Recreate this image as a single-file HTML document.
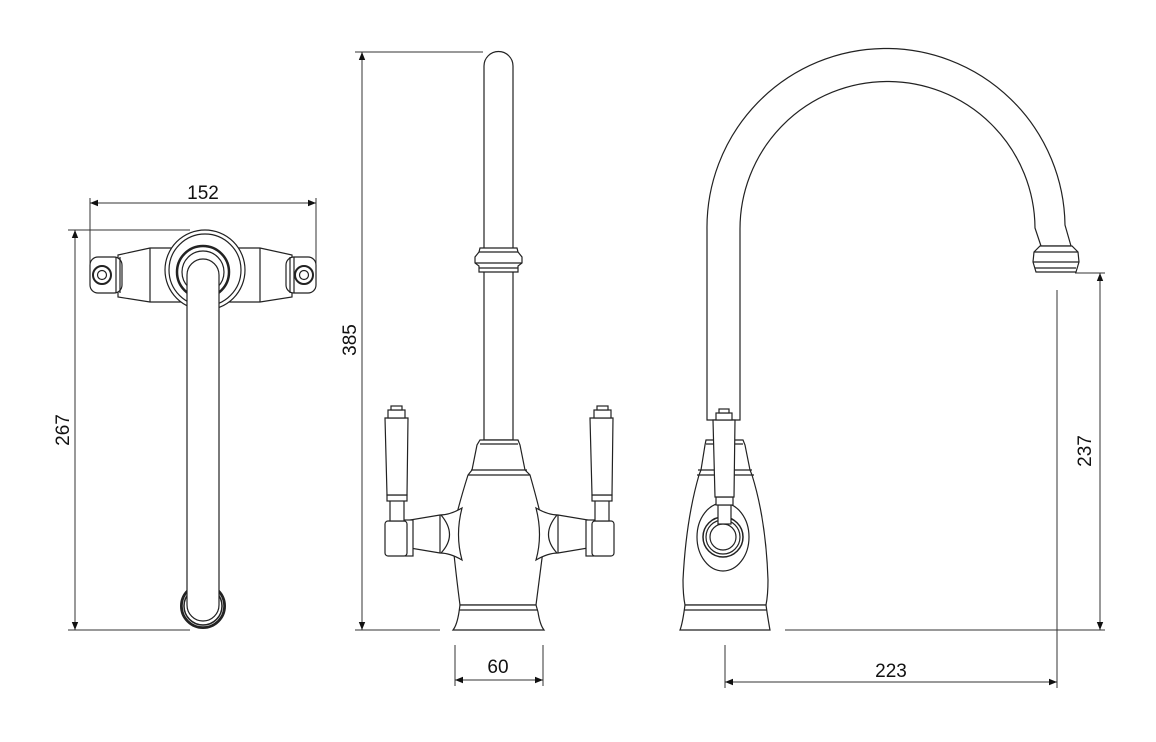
<!DOCTYPE html>
<html><head><meta charset="utf-8"><style>html,body{margin:0;padding:0;background:#fff}svg{display:block}text{font-family:"Liberation Sans",sans-serif;font-size:19px;fill:#111}</style></head>
<body>
<svg width="1156" height="742" viewBox="0 0 1156 742" xmlns="http://www.w3.org/2000/svg">
<defs>
<marker id="a" viewBox="0 0 10 10" refX="10" refY="5" markerWidth="12" markerHeight="8" markerUnits="userSpaceOnUse" orient="auto-start-reverse"><path d="M0,1 L10,5 L0,9 z" fill="#111"/></marker>
</defs>
<g stroke="#333" stroke-width="1" fill="none">
<line x1="90" y1="198" x2="90" y2="265"/><line x1="316" y1="198" x2="316" y2="265"/>
<line x1="90" y1="203" x2="316" y2="203" marker-start="url(#a)" marker-end="url(#a)"/>
<line x1="68" y1="230" x2="190" y2="230"/><line x1="68" y1="630" x2="190" y2="630"/>
<line x1="75" y1="230" x2="75" y2="630" marker-start="url(#a)" marker-end="url(#a)"/>
<line x1="355" y1="52" x2="483" y2="52"/><line x1="355" y1="630" x2="440" y2="630"/>
<line x1="362" y1="52" x2="362" y2="630" marker-start="url(#a)" marker-end="url(#a)"/>
<line x1="455" y1="645" x2="455" y2="686"/><line x1="543" y1="645" x2="543" y2="686"/>
<line x1="455" y1="680" x2="543" y2="680" marker-start="url(#a)" marker-end="url(#a)"/>
<line x1="725" y1="645" x2="725" y2="688"/><line x1="1057" y1="290" x2="1057" y2="688"/>
<line x1="725" y1="682" x2="1057" y2="682" marker-start="url(#a)" marker-end="url(#a)"/>
<line x1="1075" y1="273" x2="1105" y2="273"/><line x1="785" y1="630" x2="1105" y2="630"/>
<line x1="1100" y1="273" x2="1100" y2="630" marker-start="url(#a)" marker-end="url(#a)"/>
</g>
<text x="203" y="199" text-anchor="middle">152</text>
<text x="498" y="673" text-anchor="middle">60</text>
<text x="891" y="677" text-anchor="middle">223</text>
<text transform="translate(69,430) rotate(-90)" text-anchor="middle">267</text>
<text transform="translate(356,340) rotate(-90)" text-anchor="middle">385</text>
<text transform="translate(1091,451) rotate(-90)" text-anchor="middle">237</text>

<g stroke="#222" stroke-width="1.2" fill="#fff">
<path d="M118,255 L150,248 L260,248 L292,255 L292,297 L260,302 L150,302 L118,297 Z"/>
<line x1="150" y1="248" x2="150" y2="302"/><line x1="260" y1="248" x2="260" y2="302"/>
<rect x="90" y="257" width="32" height="36" rx="8"/><rect x="286" y="257" width="30" height="36" rx="8"/>
<line x1="116" y1="257" x2="116" y2="293"/><line x1="120" y1="257" x2="120" y2="293"/>
<line x1="290" y1="257" x2="290" y2="293"/><line x1="294" y1="257" x2="294" y2="293"/>
<circle cx="102" cy="275" r="9" stroke-width="2"/><circle cx="102" cy="275" r="4.5"/>
<circle cx="304" cy="275" r="9" stroke-width="2"/><circle cx="304" cy="275" r="4.5"/>
<circle cx="205" cy="270" r="40"/><circle cx="205" cy="270" r="36"/>
<circle cx="203" cy="272" r="26" stroke-width="2.5"/><circle cx="203" cy="272" r="21"/>
<circle cx="203" cy="606" r="22" stroke-width="2" fill="#fff"/>
<circle cx="203" cy="606" r="19" stroke-width="1.5"/>
<circle cx="203" cy="606" r="21" stroke-width="1.5" fill="none"/>
<path d="M187,275 A16,16 0 0 1 219,275 L219,605 A16,16 0 0 1 187,605 Z"/>

<path d="M484,66 A14.5,14.5 0 0 1 513,66 L513,440 L484,440 Z"/>
<path d="M480,248 L517,248 L518,252 L522,257 L522,263 L518,266 L518,272 L479,272 L479,266 L475,263 L475,257 L479,252 Z"/>
<line x1="479" y1="252" x2="518" y2="252"/><line x1="475" y1="263" x2="522" y2="263"/><line x1="479" y1="268" x2="518" y2="268"/>
<path d="M480,440 L518,440 L520,445 L525,470 L530,475 Q540,510 545,535 Q540,575 536,605 L460,605 Q456,575 452,535 Q457,510 468,475 L472,470 L477,445 Z"/>
<line x1="480" y1="444" x2="518" y2="444"/><line x1="471" y1="470" x2="527" y2="470"/><line x1="468" y1="475" x2="530" y2="475"/>
<path d="M460,605 L536,605 L538,612 Q540,625 544,630 L453,630 Q457,625 459,612 Z"/>
<line x1="459" y1="610" x2="538" y2="610"/>
<path d="M462,508 Q450,515 440,515 L410,520 L410,548 L440,553 Q450,553 462,560 Q455,535 462,508 Z"/>
<path d="M441,515 Q458,535 441,553" fill="none"/><line x1="440" y1="515" x2="440" y2="553"/>
<rect x="405" y="520" width="8" height="36"/><rect x="385" y="521" width="22" height="35" rx="3"/>
<rect x="390" y="500" width="14" height="21"/><rect x="387" y="495" width="20" height="6"/>
<path d="M385,418 L408,418 L407,495 L387,495 Z"/><rect x="388" y="410" width="17" height="8"/><rect x="391" y="406" width="11" height="4"/>
<path d="M536,508 Q548,515 558,515 L588,520 L588,548 L558,553 Q548,553 536,560 Q543,535 536,508 Z"/>
<path d="M557,515 Q540,535 557,553" fill="none"/><line x1="558" y1="515" x2="558" y2="553"/>
<rect x="586" y="520" width="8" height="36"/><rect x="592" y="521" width="22" height="35" rx="3"/>
<rect x="595" y="500" width="14" height="21"/><rect x="592" y="495" width="20" height="6"/>
<path d="M590,418 L613,418 L612,495 L592,495 Z"/><rect x="594" y="410" width="17" height="8"/><rect x="597" y="406" width="11" height="4"/>

<path d="M707,420 L707,230 A179,179 0 0 1 1065,225 L1071,246 L1041,246 L1035,228 A147,147 0 0 0 740,230 L740,420 Z"/>
<path d="M1040,246 L1072,246 L1078,252 L1079,262 L1076,272 L1036,272 L1033,262 L1034,252 Z"/>
<line x1="1034" y1="252" x2="1078" y2="252"/><line x1="1033" y1="262" x2="1079" y2="262"/><line x1="1035" y1="268" x2="1076" y2="268"/>
<path d="M706,440 L743,440 L745,445 L750,470 L752,475 Q766,520 768,580 Q768,595 766,605 L685,605 Q683,595 683,580 Q686,520 699,475 L701,470 L705,445 Z"/>
<line x1="706" y1="444" x2="743" y2="444"/><line x1="698" y1="470" x2="752" y2="470"/><line x1="697" y1="475" x2="754" y2="475"/>
<path d="M685,605 L766,605 L767,612 Q769,625 770,630 L680,630 Q682,625 684,612 Z"/>
<line x1="684" y1="610" x2="767" y2="610"/>
<ellipse cx="723" cy="537" rx="26" ry="34"/>
<circle cx="723" cy="537" r="20" stroke-width="1.5"/><circle cx="723" cy="537" r="17"/><circle cx="723" cy="537" r="13"/>
<rect x="718" y="505" width="13" height="19"/><rect x="716" y="497" width="17" height="8"/>
<path d="M713,420 L735,420 L734,497 L715,497 Z"/><rect x="716" y="413" width="16" height="7"/><rect x="719" y="409" width="10" height="4"/>
</g>
</svg>
</body></html>
